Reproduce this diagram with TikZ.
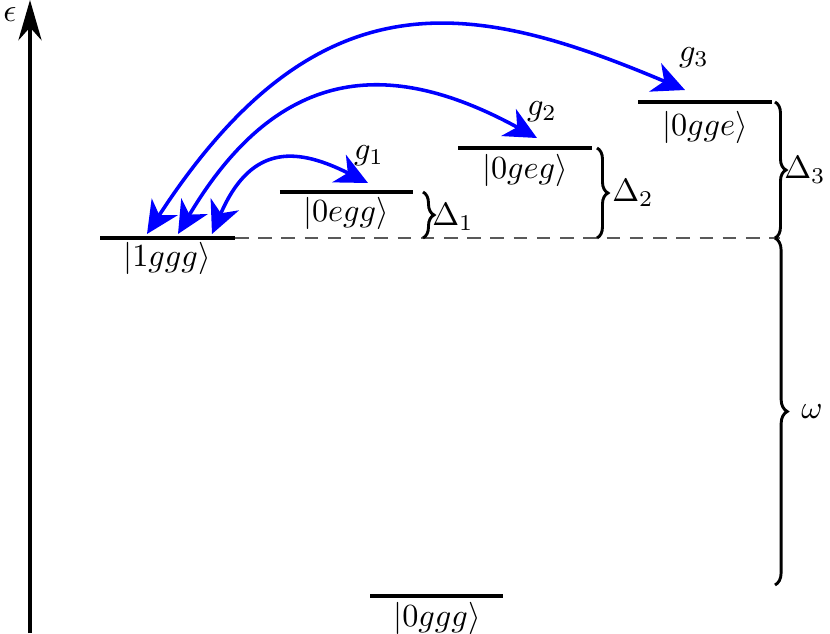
\documentclass[tikz,border=0pt]{standalone}
\usetikzlibrary{arrows.meta,decorations.pathreplacing}
\begin{document}
\begin{tikzpicture}[x=0.31pt,y=0.31pt,
  level/.style={line width=0.95pt},
  coup/.style={draw={rgb,255:red,0;green,0;blue,255},line width=1.1pt,
     {Stealth[length=10pt,width=9.5pt,inset=3pt]}-{Stealth[length=10pt,width=9.5pt,inset=3pt]}},
  gap/.style={decorate,decoration={brace,amplitude=3.4pt},line width=0.9pt},
  lbl/.style={inner sep=0pt}]
\useasboundingbox (0,0) rectangle (830,633);
% axis
\coordinate (a0) at (30,0);
\coordinate (a1) at (30,633);
\draw[line width=1pt,-{Stealth[length=12.5pt,width=7.2pt,inset=4pt]}] (a0) -- (a1);
\node[lbl] (eps) at (10,618) {$\epsilon$};
% levels
\coordinate (l1a) at (100,395); \coordinate (l1b) at (235,395);
\coordinate (e1a) at (280,441); \coordinate (e1b) at (413,441);
\coordinate (e2a) at (458,485); \coordinate (e2b) at (592,485);
\coordinate (e3a) at (638,531); \coordinate (e3b) at (772,531);
\coordinate (gga) at (370,37);  \coordinate (ggb) at (503,37);
\coordinate (dend) at (780,395);
\draw[level] (l1a) -- (l1b);
\draw[level] (e1a) -- (e1b);
\draw[level] (e2a) -- (e2b);
\draw[level] (e3a) -- (e3b);
\draw[level] (gga) -- (ggb);
\draw[dash pattern=on 4.2pt off 3pt,line width=0.6pt,color=black!65] (l1b) -- (dend);
\node[lbl] (t1) at (167,375) {$|1ggg\rangle$};
\node[lbl] (t2) at (346,420) {$|0egg\rangle$};
\node[lbl] (t3) at (525,463) {$|0geg\rangle$};
\node[lbl] (t4) at (705,506) {$|0gge\rangle$};
\node[lbl] (t5) at (437,15) {$|0ggg\rangle$};
% braces
\coordinate (b1t) at (423,441); \coordinate (b1b) at (423,395);
\coordinate (b2t) at (597,485); \coordinate (b2b) at (597,395);
\coordinate (b3t) at (775,531); \coordinate (b3b) at (775,395);
\coordinate (bwt) at (775,395); \coordinate (bwb) at (775,48);
\draw[gap] (b1t) -- (b1b);
\draw[gap] (b2t) -- (b2b);
\draw[gap] (b3t) -- (b3b);
\draw[gap,decoration={brace,amplitude=3.8pt}] (bwt) -- (bwb);
\node[lbl] (d1) at (453,416) {$\Delta_1$};
\node[lbl] (d2) at (633,440) {$\Delta_2$};
\node[lbl] (d3) at (805,463) {$\Delta_3$};
\node[lbl] (w) at (812,221) {$\omega$};
% couplings
\coordinate (c1s) at (212,399); \coordinate (c1e) at (368,450);
\coordinate (c2s) at (178,399); \coordinate (c2e) at (537,495);
\coordinate (c3s) at (147,399); \coordinate (c3e) at (685,543);
\draw[coup] (c1s) .. controls (252,492) and (300,484) .. (c1e);
\draw[coup] (c2s) .. controls (282,574) and (396,572) .. (c2e);
\draw[coup] (c3s) .. controls (318,662) and (472,633) .. (c3e);
\node[lbl] (g1) at (369,477) {$g_1$};
\node[lbl] (g2) at (542,521) {$g_2$};
\node[lbl] (g3) at (694,575) {$g_3$};
\end{tikzpicture}
\end{document}
